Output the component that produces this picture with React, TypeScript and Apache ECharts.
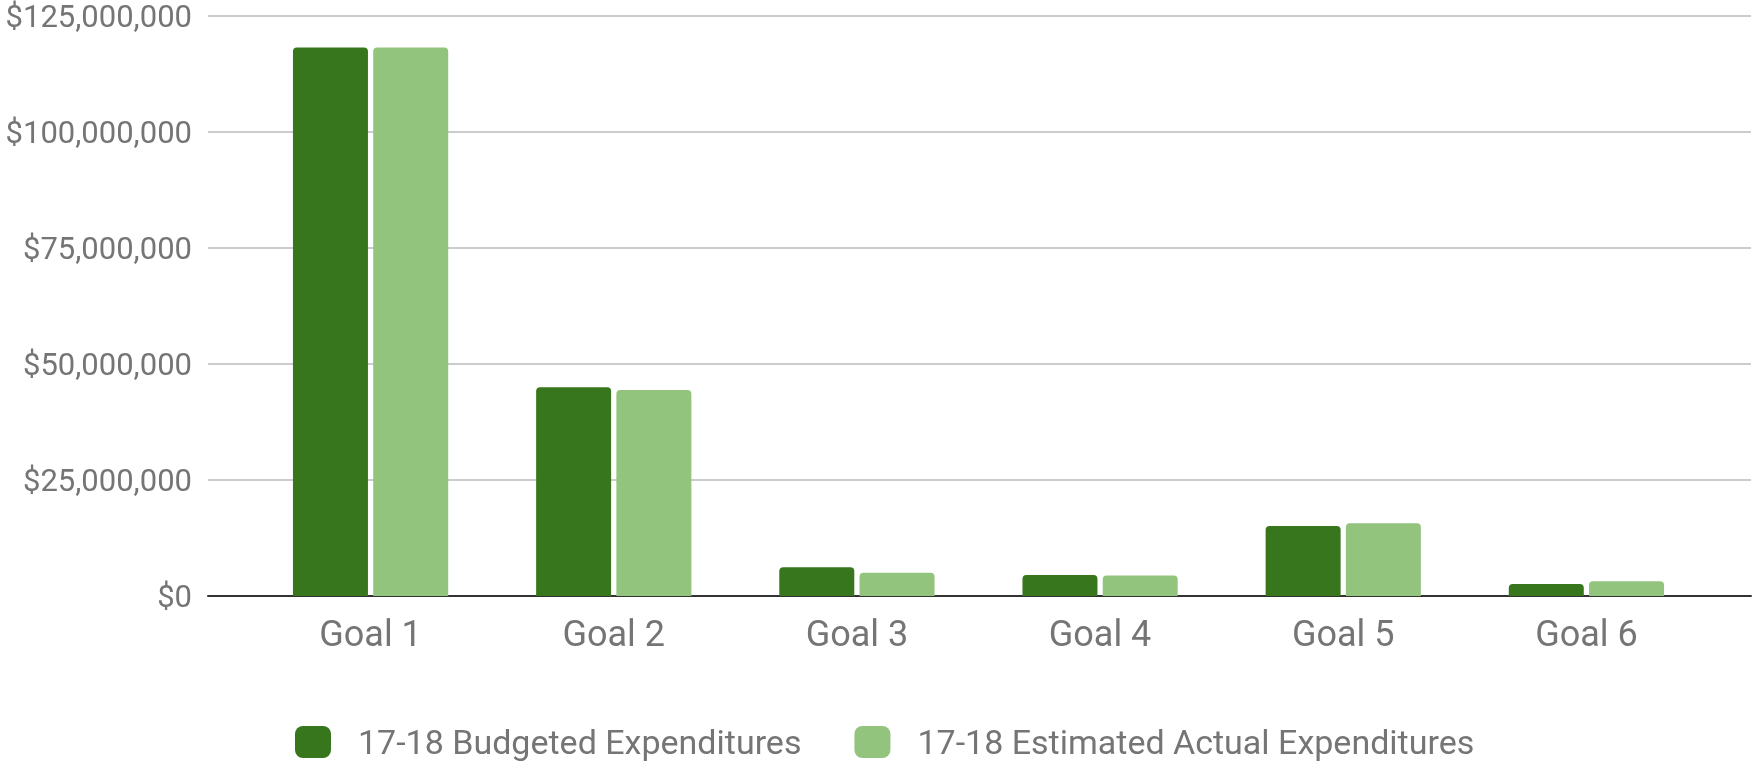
import React, { useEffect, useRef } from "react";
import * as echarts from "echarts";

const categories = ["Goal 1", "Goal 2", "Goal 3", "Goal 4", "Goal 5", "Goal 6"];
const budgeted = [118200000, 45000000, 6200000, 4500000, 15100000, 2600000];
const estimated = [118200000, 44400000, 5000000, 4400000, 15700000, 3200000];
const seriesNames = ["17-18 Budgeted Expenditures", "17-18 Estimated Actual Expenditures"];
const yMax = 125000000;
const yInterval = 25000000;

const fmt = (v: number) => "$" + v.toLocaleString("en-US");

export default function App() {
  const ref = useRef<HTMLDivElement>(null);
  useEffect(() => {
    if (!ref.current) return;
    const chart = echarts.init(ref.current, null, { renderer: "svg" });
    const labelColor = "#757575";
    chart.setOption({
      animation: false,
      textStyle: { fontFamily: "Roboto" },
      grid: [
        { left: 208, right: 3, top: 16, bottom: 165 },
        { left: 249, right: 46, top: 16, bottom: 165 },
      ],
      legend: {
        data: seriesNames,
        left: 290,
        top: 720,
        icon: "roundRect",
        itemWidth: 36,
        itemHeight: 32,
        itemGap: 53,
        textStyle: {
          fontSize: 34,
          lineHeight: 32,
          color: labelColor,
          fontFamily: "Roboto",
          padding: [0, 0, 0, 22],
        },
      },
      xAxis: [
        {
          type: "category",
          gridIndex: 0,
          data: categories,
          axisLine: { show: true, lineStyle: { color: "#333", width: 2 } },
          axisTick: { show: false },
          axisLabel: { show: false },
          splitLine: { show: false },
        },
        {
          type: "category",
          gridIndex: 1,
          data: categories,
          axisLine: { show: false },
          axisTick: { show: false },
          axisLabel: { fontSize: 36, color: labelColor, margin: 20, fontFamily: "Roboto" },
        },
      ],
      yAxis: [
        {
          type: "value",
          gridIndex: 0,
          min: 0,
          max: yMax,
          interval: yInterval,
          axisLabel: { formatter: fmt, fontSize: 31, lineHeight: 30, color: labelColor, margin: 16, fontFamily: "Roboto" },
          splitLine: { lineStyle: { color: "#cccccc", width: 2 } },
          axisLine: { show: false },
          axisTick: { show: false },
        },
        {
          type: "value",
          gridIndex: 1,
          min: 0,
          max: yMax,
          interval: yInterval,
          axisLabel: { show: false },
          splitLine: { show: false },
          axisLine: { show: false },
          axisTick: { show: false },
        },
      ],
      series: [
        {
          name: seriesNames[0],
          type: "bar",
          xAxisIndex: 1,
          yAxisIndex: 1,
          data: budgeted,
          barWidth: 75,
          barGap: "7%",
          itemStyle: { color: "#38761d", borderRadius: [4, 4, 0, 0] },
        },
        {
          name: seriesNames[1],
          type: "bar",
          xAxisIndex: 1,
          yAxisIndex: 1,
          data: estimated,
          barWidth: 75,
          barGap: "7%",
          itemStyle: { color: "#93c47d", borderRadius: [4, 4, 0, 0] },
        },
      ],
    });
    return () => chart.dispose();
  }, []);
  return <div ref={ref} style={{ position: "fixed", left: 0, top: 0, width: 1754, height: 761 }} />;
}
